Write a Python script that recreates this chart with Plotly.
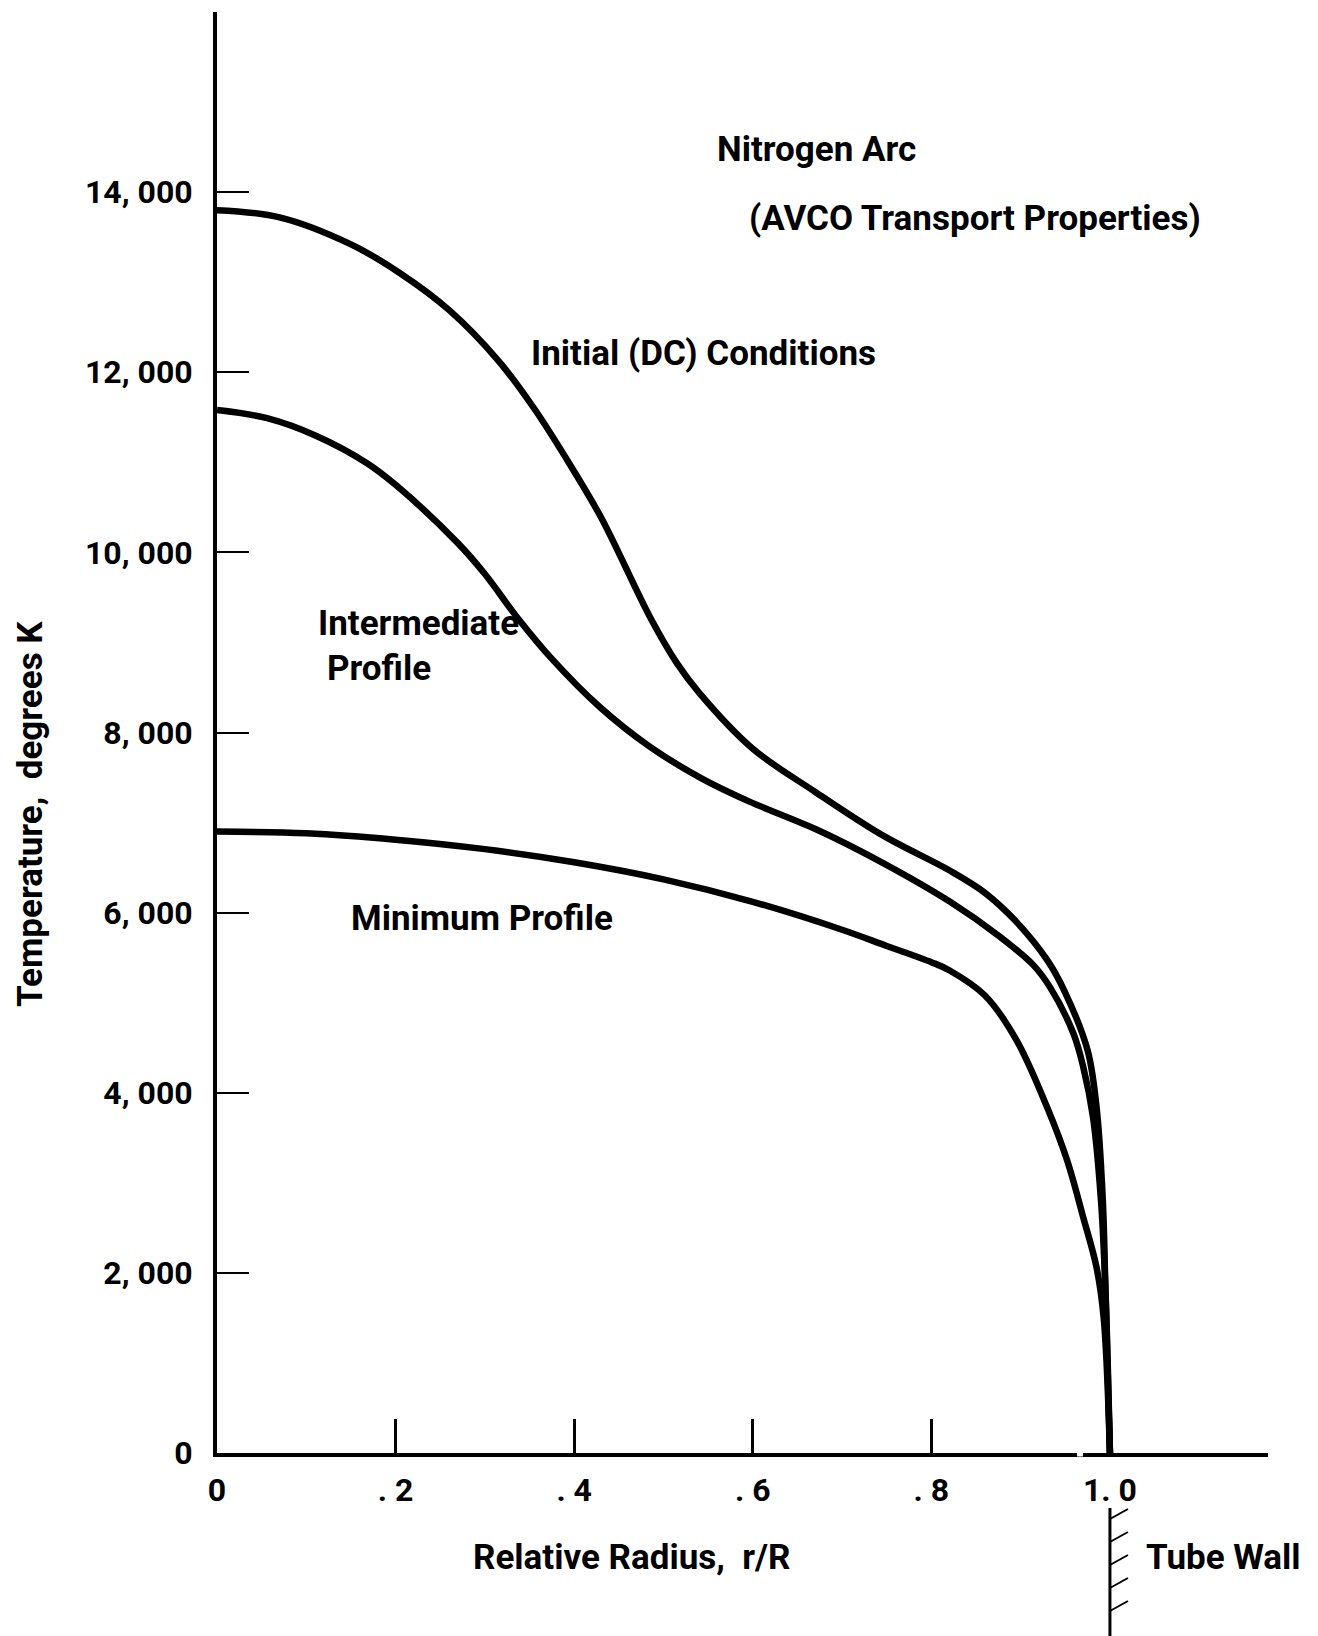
import plotly.graph_objects as go

# ---- data ----
initial_r = [0, 0.07, 0.15, 0.205, 0.26, 0.315, 0.355, 0.39, 0.43, 0.485, 0.515,
             0.54, 0.6, 0.67, 0.745, 0.82, 0.86, 0.895, 0.93, 0.95, 0.975, 0.985, 0.992,
             0.995, 1.0]
initial_T = [13800, 13720, 13420, 13100, 12690, 12130, 11600, 11060, 10390, 9280, 8770,
             8440, 7820, 7340, 6860, 6470, 6220, 5900, 5470, 5110, 4470, 3840, 2810,
             1800, 0]

intermediate_r = [0, 0.056, 0.112, 0.168, 0.2, 0.27, 0.3, 0.336, 0.373, 0.429, 0.485, 0.541,
                  0.597, 0.672, 0.746, 0.821, 0.877, 0.914, 0.933, 0.959, 0.97, 0.981, 0.99,
                  0.995, 1.0]
intermediate_T = [11580, 11490, 11290, 10990, 10750, 10100, 9760, 9280, 8840, 8280, 7840, 7500,
                  7230, 6920, 6550, 6120, 5730, 5420, 5170, 4660, 4290, 3730, 2800,
                  1800, 0]

minimum_r = [0, 0.1, 0.2, 0.3, 0.4, 0.5, 0.6, 0.7, 0.75, 0.8, 0.82, 0.86, 0.895,
             0.93, 0.952, 0.97, 0.985, 0.993, 1.0]
minimum_T = [6900, 6880, 6810, 6705, 6560, 6370, 6120, 5810, 5630, 5450, 5360, 5080, 4590,
             3830, 3250, 2620, 2060, 1500, 0]

x_tickvals = [0, 0.2, 0.4, 0.6, 0.8, 1.0]
x_ticktext = ["0", ". 2", ". 4", ". 6", ". 8", "1. 0"]
y_tickvals = [0, 2000, 4000, 6000, 8000, 10000, 12000, 14000]
y_ticktext = ["0", "2, 000", "4, 000", "6, 000", "8, 000", "10, 000", "12, 000", "14, 000"]

X_RANGE = [0, 1.177]
Y_RANGE = [0, 16000]

W, H = 1318, 1636
OFF = 8                       # default body margin of the html page
ML, MR, MT, MB = 209, 58, 4, 191

FONT = "Roboto, Liberation Sans, sans-serif"

fig = go.Figure()
for name, rr, tt in [("Initial (DC) Conditions", initial_r, initial_T),
                     ("Intermediate Profile", intermediate_r, intermediate_T),
                     ("Minimum Profile", minimum_r, minimum_T)]:
    fig.add_trace(go.Scatter(x=rr, y=tt, mode="lines", name=name,
                             line=dict(color="black", width=6.5, shape="spline", smoothing=1.0),
                             showlegend=False, hoverinfo="x+y"))

PW = W - ML - MR
PH = H - MT - MB

def r_to_paper(r):
    return (r - X_RANGE[0]) / (X_RANGE[1] - X_RANGE[0])

def page_x(X):
    return (X - OFF - ML) / PW

def page_y(Y):
    return (H - MB - (Y - OFF)) / PH

# tube wall (vertical line with hatch marks, below axis at r = 1.0)
shapes = []
xw = r_to_paper(1.0)
shapes.append(dict(type="line", xref="paper", yref="paper", x0=xw, x1=xw,
                   y0=page_y(1508), y1=page_y(1650), line=dict(color="black", width=3)))
dxp = 18 / PW
for Yh in [1519, 1542, 1565, 1588, 1611]:
    shapes.append(dict(type="line", xref="paper", yref="paper", x0=xw, x1=xw + dxp,
                       y0=page_y(Yh), y1=page_y(Yh - 10), line=dict(color="black", width=2)))
# small break in the r axis just left of 1.0
shapes.append(dict(type="line", xref="paper", yref="paper",
                   x0=page_x(1077), x1=page_x(1083),
                   y0=0, y1=0, line=dict(color="white", width=7), layer="above"))

ann_font = dict(family=FONT, size=35, color="black", weight="bold")
annotations = [
    dict(text="Nitrogen Arc", x=0.671, y=14474, xanchor="center", yanchor="middle"),
    dict(text="(AVCO Transport Properties)", x=0.849, y=13708, xanchor="center", yanchor="middle"),
    dict(text="Initial (DC) Conditions", x=0.545, y=12210, xanchor="center", yanchor="middle"),
    dict(text="Intermediate", x=0.111, y=9213, xanchor="left", yanchor="middle"),
    dict(text="Profile", x=0.121, y=8713, xanchor="left", yanchor="middle"),
    dict(text="Minimum Profile", x=0.297, y=5938, xanchor="center", yanchor="middle"),
]
for a in annotations:
    a.update(xref="x", yref="y", showarrow=False, font=ann_font)

# labels outside the plotting area (paper coordinates)
annotations += [
    dict(text="Tube Wall", xref="paper", yref="paper", x=page_x(1223), y=page_y(1557),
         xanchor="center", yanchor="middle", showarrow=False, font=ann_font),
    dict(text="Relative Radius,  r/R", xref="paper", yref="paper", x=page_x(631),
         y=page_y(1557), xanchor="center", yanchor="middle", showarrow=False, font=ann_font),
    dict(text="Temperature,  degrees K", xref="paper", yref="paper", x=page_x(31),
         y=page_y(814), xanchor="center", yanchor="middle", showarrow=False, textangle=-90,
         font=ann_font),
]

fig.update_layout(
    width=W, height=H,
    margin=dict(l=ML, r=MR, t=MT, b=MB, autoexpand=False),
    paper_bgcolor="white", plot_bgcolor="white",
    font=dict(family=FONT, color="black"),
    shapes=shapes, annotations=annotations,
    xaxis=dict(range=X_RANGE, showgrid=False, zeroline=False, showline=True, automargin=False,
               linecolor="black", linewidth=4, ticks="inside", ticklen=34, tickwidth=3,
               tickcolor="black", tickvals=x_tickvals, ticktext=x_ticktext,
               tickfont=dict(family=FONT, size=32, color="black", weight="bold"),
               ticklabelstandoff=6),
    yaxis=dict(range=Y_RANGE, showgrid=False, zeroline=False, showline=True, automargin=False,
               linecolor="black", linewidth=4, ticks="inside", ticklen=32, tickwidth=2,
               tickcolor="black", tickvals=y_tickvals, ticktext=y_ticktext,
               tickfont=dict(family=FONT, size=32, color="black", weight="bold"),
               ticklabelstandoff=14),
)

fig.write_html("out.html")
